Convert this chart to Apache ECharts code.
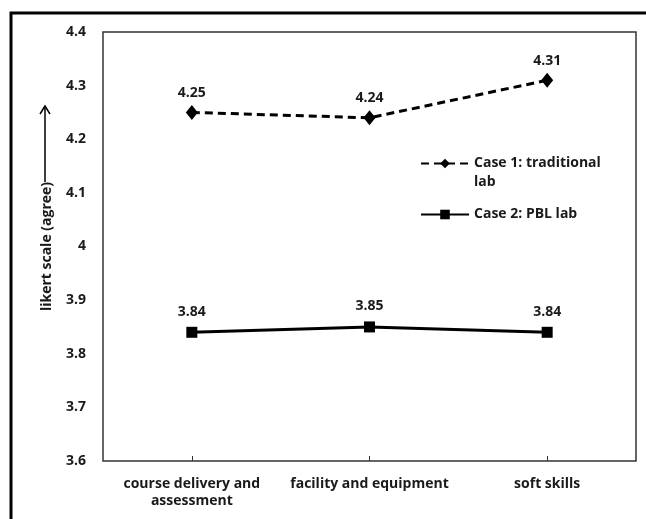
<!DOCTYPE html>
<html>
<head>
<meta charset="utf-8">
<script src="https://cdn.jsdelivr.net/npm/echarts@6/dist/echarts.min.js"></script>
<style>
html,body{margin:0;padding:0;background:#fff;}
#c{width:646px;height:519px;}
</style>
</head>
<body>
<div id="c"></div>
<script>
const categories = ['course delivery and\nassessment', 'facility and equipment', 'soft skills'];
const case1 = [4.25, 4.24, 4.31];
const case2 = [3.84, 3.85, 3.84];
const seriesNames = ['Case 1: traditional\nlab', 'Case 2: PBL lab'];
const yTicks = { min: 3.6, max: 4.4, interval: 0.1 };

const FONT = '"Open Sans", "Liberation Sans", sans-serif';
const FS = 14;
const txt = { fontFamily: FONT, fontSize: FS, fontWeight: 'bold', color: '#1a1a1a' };
const chart = echarts.init(document.getElementById('c'));
chart.setOption({
  backgroundColor: '#fff',
  animation: false,
  grid: { left: 103, right: 10, top: 32, bottom: 58, show: true, borderColor: '#333', borderWidth: 1.5, backgroundColor: 'transparent' },
  legend: [
    {
      left: 415, top: 130, padding: 5,
      itemWidth: 48, itemHeight: 12, itemGap: 0,
      formatter: name => ' \n' + name,
      textStyle: Object.assign({}, txt, { lineHeight: 19 }),
      data: [{ name: seriesNames[0] }]
    },
    {
      left: 415, top: 200, padding: 5,
      itemWidth: 48, itemHeight: 12, itemGap: 0,
      textStyle: Object.assign({}, txt, { lineHeight: 19 }),
      data: [{ name: seriesNames[1] }]
    }
  ],
  xAxis: {
    type: 'category',
    data: categories,
    boundaryGap: true,
    axisLine: { show: false },
    axisTick: { show: true, inside: true, alignWithLabel: true, length: 5, lineStyle: { color: '#333' } },
    axisLabel: Object.assign({}, txt, { margin: 15, lineHeight: 17, interval: 0 })
  },
  yAxis: {
    type: 'value',
    min: yTicks.min, max: yTicks.max, interval: yTicks.interval,
    name: 'likert scale (agree)',
    nameLocation: 'middle',
    nameGap: 49,
    nameTextStyle: txt,
    axisLine: { show: false },
    axisTick: { show: false },
    splitLine: { show: false },
    axisLabel: Object.assign({}, txt, {
      margin: 17,
      formatter: v => { const r = Math.round(v * 10) / 10; return Number.isInteger(r) ? String(r) : r.toFixed(1); }
    })
  },
  series: [
    {
      name: seriesNames[0], type: 'line', data: case1,
      symbol: 'diamond', symbolSize: [12, 15],
      lineStyle: { color: '#000', width: 3, type: [8, 5] },
      itemStyle: { color: '#000' },
      label: Object.assign({ show: true, position: 'top', distance: 5, formatter: p => p.value.toFixed(2) }, txt)
    },
    {
      name: seriesNames[1], type: 'line', data: case2,
      symbol: 'rect', symbolSize: 11,
      lineStyle: { color: '#000', width: 3 },
      itemStyle: { color: '#000' },
      label: Object.assign({ show: true, position: 'top', distance: 8, formatter: p => p.value.toFixed(2) }, txt)
    }
  ],
  graphic: [
    { type: 'rect', shape: { x: 11, y: 13, width: 700, height: 600 }, style: { fill: 'none', stroke: '#000', lineWidth: 3 } },
    { type: 'line', shape: { x1: 45, y1: 182, x2: 45, y2: 107 }, style: { stroke: '#000', lineWidth: 1.5 } },
    { type: 'polyline', shape: { points: [[40, 114], [45, 106], [50, 114]] }, style: { stroke: '#000', lineWidth: 1.5, fill: 'none' } }
  ]
});
</script>
</body>
</html>
